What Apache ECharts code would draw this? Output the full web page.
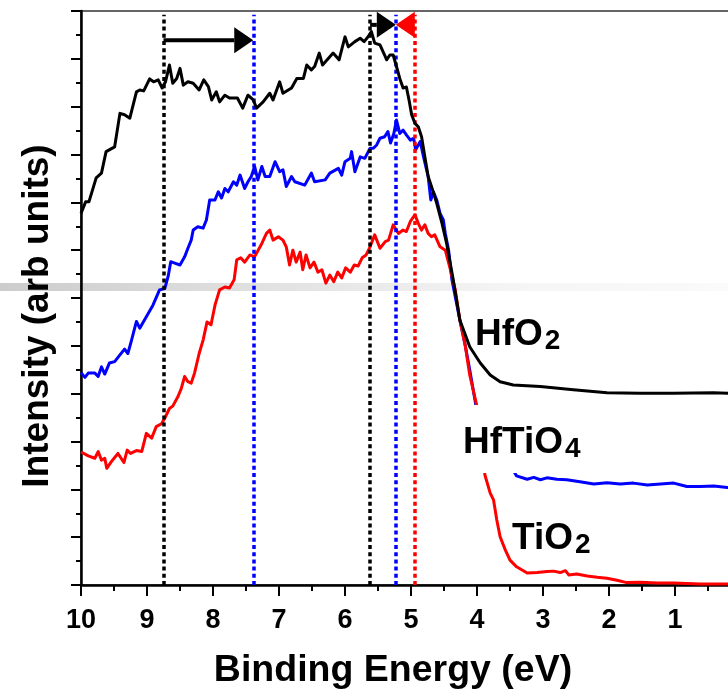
<!DOCTYPE html>
<html>
<head>
<meta charset="utf-8">
<script src="https://cdn.jsdelivr.net/npm/echarts@6/dist/echarts.min.js"></script>
<style>
  html, body { margin: 0; padding: 0; background: #fff; }
  #chart { width: 728px; height: 692px; }
</style>
</head>
<body>
<div id="chart"></div>
<script>
// Valence-band spectra (binding energy in eV, intensity in arb. units, offset per film)
const hfo2Energy = [10.00, 9.93, 9.88, 9.77, 9.69, 9.62, 9.49, 9.41, 9.34, 9.26, 9.16, 9.11, 9.05, 8.96, 8.90, 8.83, 8.77, 8.72, 8.66, 8.61,
  8.55, 8.50, 8.45, 8.38, 8.30, 8.21, 8.14, 8.07, 8.02, 7.95, 7.90, 7.82, 7.75, 7.63, 7.55, 7.47, 7.39, 7.34, 7.24, 7.14,
  7.09, 6.99, 6.94, 6.81, 6.73, 6.63, 6.58, 6.51, 6.46, 6.39, 6.34, 6.25, 6.18, 6.09, 6.00, 5.95, 5.85, 5.77, 5.71, 5.65,
  5.60, 5.55, 5.47, 5.40, 5.37, 5.32, 5.27, 5.22, 5.17, 5.12, 5.07, 5.03, 4.99, 4.94, 4.89, 4.84, 4.79, 4.74, 4.69, 4.61,
  4.53, 4.46, 4.36, 4.26, 4.11, 3.95, 3.80, 3.65, 3.45, 3.04, 2.54, 2.03, 1.53, 1.03, 0.42, 0.00];
const hfo2Intensity = [7.77, 8.01, 8.01, 8.51, 8.61, 9.06, 9.16, 9.86, 9.83, 9.76, 10.31, 10.35, 10.33, 10.58, 10.52, 10.56, 10.39, 10.52, 10.87, 10.49,
  10.59, 10.80, 10.45, 10.52, 10.49, 10.35, 10.56, 10.42, 10.14, 10.31, 10.10, 10.24, 10.18, 10.18, 9.97, 10.24, 10.14, 9.97, 10.10, 10.28,
  10.14, 10.52, 10.28, 10.39, 10.59, 10.59, 10.87, 10.77, 10.84, 11.12, 10.87, 11.01, 11.12, 10.98, 11.46, 11.25, 11.36, 11.43, 11.36, 11.46,
  11.57, 11.33, 11.29, 11.08, 10.98, 11.08, 11.08, 10.84, 10.59, 10.39, 10.41, 10.14, 9.83, 9.65, 9.58, 9.37, 8.95, 8.54, 8.33, 7.98,
  7.56, 7.14, 6.38, 5.54, 4.98, 4.64, 4.39, 4.25, 4.18, 4.15, 4.08, 4.02, 4.01, 4.01, 4.02, 4.00];

const hftio4Energy = [10.00, 9.94, 9.89, 9.79, 9.74, 9.69, 9.64, 9.57, 9.49, 9.41, 9.34, 9.29, 9.24, 9.16, 9.11, 9.01, 8.91, 8.81, 8.73, 8.68,
  8.64, 8.58, 8.50, 8.43, 8.38, 8.33, 8.30, 8.23, 8.15, 8.10, 8.05, 7.97, 7.92, 7.87, 7.82, 7.77, 7.69, 7.64, 7.59, 7.52,
  7.47, 7.42, 7.37, 7.32, 7.26, 7.21, 7.14, 7.06, 6.99, 6.94, 6.89, 6.81, 6.76, 6.61, 6.51, 6.46, 6.30, 6.23, 6.10, 6.05,
  6.00, 5.92, 5.90, 5.85, 5.77, 5.70, 5.62, 5.57, 5.52, 5.47, 5.40, 5.35, 5.31, 5.26, 5.22, 5.17, 5.12, 5.07, 5.01, 4.96,
  4.93, 4.86, 4.81, 4.74, 4.70, 4.66, 4.61, 4.56, 4.51, 4.48, 4.43, 4.38, 4.26, 4.18, 4.11, 4.01, 3.40, 3.24, 3.14, 3.04,
  2.94, 2.79, 2.64, 2.44, 2.23, 2.03, 1.83, 1.63, 1.42, 1.22, 1.02, 0.82, 0.62, 0.41, 0.21, 0.00];
const hftio4Intensity = [4.44, 4.34, 4.43, 4.43, 4.36, 4.56, 4.41, 4.64, 4.67, 4.81, 4.93, 4.84, 5.09, 5.51, 5.37, 5.61, 5.85, 6.17, 6.20, 6.45,
  6.76, 6.73, 6.69, 6.86, 7.04, 7.21, 7.42, 7.49, 7.46, 7.63, 8.05, 8.05, 8.22, 8.09, 8.29, 8.22, 8.43, 8.36, 8.57, 8.29,
  8.43, 8.54, 8.75, 8.47, 8.75, 8.54, 8.54, 8.85, 8.64, 8.68, 8.33, 8.54, 8.43, 8.36, 8.61, 8.43, 8.47, 8.61, 8.71, 8.57,
  8.85, 8.92, 9.06, 8.64, 8.95, 8.92, 9.13, 9.13, 9.20, 9.34, 9.37, 9.48, 9.24, 9.44, 9.72, 9.44, 9.51, 9.41, 9.30, 9.34,
  9.10, 9.27, 8.95, 8.54, 8.05, 8.22, 8.05, 7.77, 7.63, 7.35, 7.00, 6.38, 5.54, 5.02, 4.50, 3.70, 2.28, 2.21, 2.25, 2.20,
  2.24, 2.21, 2.20, 2.16, 2.11, 2.14, 2.11, 2.13, 2.09, 2.11, 2.13, 2.06, 2.06, 2.07, 2.04, 2.05];

const tio2Energy = [10.00, 9.97, 9.89, 9.79, 9.74, 9.69, 9.64, 9.61, 9.54, 9.44, 9.35, 9.30, 9.25, 9.16, 9.08, 9.01, 8.93, 8.86, 8.78, 8.73,
  8.66, 8.61, 8.53, 8.48, 8.43, 8.38, 8.33, 8.28, 8.21, 8.15, 8.09, 8.03, 7.97, 7.90, 7.82, 7.75, 7.68, 7.64, 7.58, 7.52,
  7.44, 7.37, 7.26, 7.19, 7.14, 7.09, 7.01, 6.94, 6.89, 6.84, 6.79, 6.74, 6.68, 6.64, 6.59, 6.53, 6.47, 6.41, 6.35, 6.29,
  6.23, 6.17, 6.11, 6.05, 5.99, 5.92, 5.86, 5.80, 5.74, 5.68, 5.62, 5.55, 5.47, 5.39, 5.34, 5.27, 5.19, 5.12, 5.07, 5.01,
  4.94, 4.89, 4.84, 4.79, 4.74, 4.69, 4.64, 4.56, 4.48, 4.41, 4.33, 4.26, 4.18, 4.11, 4.00, 3.88, 3.80, 3.75, 3.70, 3.65,
  3.57, 3.50, 3.40, 3.24, 3.09, 2.94, 2.84, 2.74, 2.66, 2.61, 2.49, 2.33, 2.18, 2.03, 1.88, 1.73, 1.53, 1.27, 1.02, 0.62, 0.00];
const tio2Intensity = [2.78, 2.82, 2.70, 2.65, 2.79, 2.61, 2.65, 2.44, 2.58, 2.75, 2.56, 2.82, 2.75, 2.81, 2.79, 3.17, 3.07, 3.31, 3.37, 3.49,
  3.69, 3.74, 3.94, 4.11, 4.36, 4.25, 4.22, 4.43, 4.84, 5.12, 5.50, 5.44, 5.85, 6.17, 6.23, 6.21, 6.38, 6.80, 6.84, 6.75,
  6.90, 6.86, 7.14, 7.35, 7.42, 7.21, 7.28, 7.21, 7.07, 6.69, 7.00, 6.75, 6.96, 6.59, 6.90, 6.63, 6.75, 6.54, 6.59, 6.31,
  6.48, 6.34, 6.54, 6.42, 6.63, 6.54, 6.69, 6.67, 6.84, 6.90, 7.07, 7.32, 7.04, 7.18, 7.21, 7.53, 7.35, 7.42, 7.39, 7.60,
  7.74, 7.56, 7.42, 7.53, 7.35, 7.28, 7.32, 7.07, 7.00, 6.63, 6.17, 5.54, 5.02, 4.39, 3.73, 2.30, 1.92, 1.78, 1.36, 1.01,
  0.73, 0.52, 0.38, 0.25, 0.26, 0.28, 0.29, 0.26, 0.30, 0.21, 0.23, 0.19, 0.16, 0.14, 0.10, 0.05, 0.06, 0.04, 0.04, 0.02, 0.02];

// Band-edge positions (eV) marked by dotted verticals
const hfo2Edges = [8.75, 5.62];
const hftio4Edges = [7.39, 5.23];
const tio2Edges = [4.94];

// Edge shifts drawn as arrows: start energy, end energy, height on the intensity axis
const shiftFrom = [8.75, 5.62, 4.94];
const shiftTo = [7.39, 5.23, 5.23];
const shiftLevel = [11.39, 11.71, 11.71];
const shiftColors = ['#000000', '#000000', '#ff0000'];

const FONT = 'Arial, "Liberation Sans", Helvetica, sans-serif';

function pairs(xs, ys) { return xs.map((x, i) => [x, ys[i]]); }

function edgeLines(edges, color) {
  return {
    silent: true,
    symbol: ['none', 'none'],
    label: { show: false },
    lineStyle: { color: color, width: 3.5, type: [4, 3.2], cap: 'butt' },
    emphasis: { disabled: true },
    data: edges.map(e => [{ coord: [e, 0] }, { coord: [e, 11.92] }])
  };
}

function curve(name, xs, ys, color, edges, z) {
  return {
    name: name,
    type: 'line',
    data: pairs(xs, ys),
    showSymbol: false,
    symbol: 'none',
    z: z,
    lineStyle: { color: color, width: 3, join: 'round' },
    itemStyle: { color: color },
    emphasis: { disabled: true },
    markLine: edgeLines(edges, color)
  };
}

function formula(body, sub, extra) {
  return Object.assign({
    text: '{m|' + body + '}{s|' + sub + '}', textAlign: 'left', textVerticalAlign: 'top',
    rich: {
      m: { fontFamily: FONT, fontWeight: 'bold', fontSize: 37, lineHeight: 40, fill: '#000' },
      s: { fontFamily: FONT, fontWeight: 'bold', fontSize: 28, lineHeight: 16, verticalAlign: 'bottom', fill: '#000', padding: [0, 0, 0, 2] }
    }
  }, extra || {});
}

const chart = echarts.init(document.getElementById('chart'), null, { renderer: 'canvas' });

chart.setOption({
  animation: false,
  backgroundColor: '#ffffff',
  grid: {
    left: 81, top: 11, width: 660, height: 574,
    show: true, borderColor: '#333333', borderWidth: 1.5,
    containLabel: false, outerBoundsMode: 'none'
  },
  xAxis: {
    type: 'value', inverse: true, min: 0, max: 10, interval: 1,
    axisLine: { show: true, onZero: false, lineStyle: { color: '#000', width: 2.5 } },
    axisTick: { show: true, inside: false, length: 11, lineStyle: { color: '#000', width: 2 } },
    minorTick: { show: true, splitNumber: 2, length: 6, lineStyle: { color: '#000', width: 2 } },
    splitLine: { show: false },
    minorSplitLine: { show: false },
    axisLabel: { show: true, color: '#000', fontFamily: FONT, fontWeight: 'bold', fontSize: 27, margin: 22 }
  },
  yAxis: {
    type: 'value', min: 0, max: 12, interval: 1,
    axisLine: { show: true, onZero: false, lineStyle: { color: '#000', width: 2.5 } },
    axisTick: { show: true, inside: false, length: 10, lineStyle: { color: '#000', width: 2 } },
    minorTick: { show: true, splitNumber: 2, length: 5, lineStyle: { color: '#000', width: 2 } },
    splitLine: { show: false },
    minorSplitLine: { show: false },
    axisLabel: { show: false }
  },
  series: [
    curve('HfTiO4', hftio4Energy, hftio4Intensity, '#0000ff', hftio4Edges, 3),
    curve('TiO2', tio2Energy, tio2Intensity, '#ff0000', tio2Edges, 4),
    curve('HfO2', hfo2Energy, hfo2Intensity, '#000000', hfo2Edges, 5),
    {
      name: 'shift',
      type: 'custom',
      z: 6,
      silent: true,
      data: shiftFrom.map((f, i) => [f, shiftTo[i], shiftLevel[i]]),
      renderItem: function (params, api) {
        const a = api.coord([api.value(0), api.value(2)]);
        const b = api.coord([api.value(1), api.value(2)]);
        const dir = b[0] > a[0] ? 1 : -1;
        const headLen = 19, half = 13;
        const base = b[0] - dir * headLen;
        const color = shiftColors[params.dataIndex];
        const children = [];
        if ((base - a[0]) * dir > 0) {
          children.push({ type: 'line', shape: { x1: a[0], y1: a[1], x2: base, y2: a[1] },
            style: { stroke: color, lineWidth: 4 } });
        }
        children.push({ type: 'polygon',
          shape: { points: [[b[0], b[1]], [base, b[1] - half], [base, b[1] + half]] },
          style: { fill: color } });
        return { type: 'group', children: children };
      }
    }
  ],
  graphic: [
    {
      type: 'rect', z: 1, silent: true,
      shape: { x: 0, y: 283, width: 728, height: 8 },
      style: {
        fill: {
          type: 'linear', x: 0, y: 0, x2: 1, y2: 0,
          colorStops: [
            { offset: 0, color: 'rgba(0,0,0,0.20)' },
            { offset: 0.35, color: 'rgba(0,0,0,0.12)' },
            { offset: 0.7, color: 'rgba(0,0,0,0.04)' },
            { offset: 1, color: 'rgba(0,0,0,0.02)' }
          ]
        }
      }
    },
    { type: 'text', z: 100, silent: true, x: 475, y: 315, style: formula('HfO', '2') },
    {
      type: 'text', z: 100, silent: true, x: 458, y: 405,
      style: formula('HfTiO', '4', { backgroundColor: '#ffffff', padding: [18, 3, 10, 5] })
    },
    { type: 'text', z: 100, silent: true, x: 512, y: 519, style: formula('TiO', '2') },
    {
      type: 'text', z: 100, silent: true, x: 393, y: 671,
      style: {
        text: 'Binding Energy (eV)', textAlign: 'center', textVerticalAlign: 'middle',
        fontFamily: FONT, fontWeight: 'bold', fontSize: 37.5, fill: '#000'
      }
    },
    {
      type: 'text', z: 100, silent: true, x: 38, y: 316, rotation: Math.PI / 2,
      style: {
        text: 'Intensity (arb units)', textAlign: 'center', textVerticalAlign: 'middle',
        fontFamily: FONT, fontWeight: 'bold', fontSize: 37, fill: '#000'
      }
    }
  ]
});
</script>
</body>
</html>
